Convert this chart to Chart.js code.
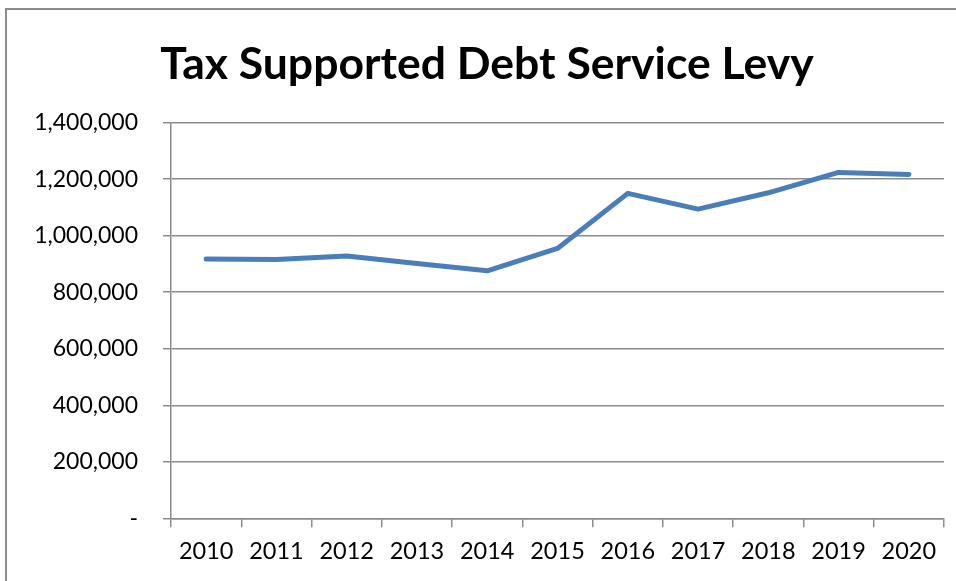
<!DOCTYPE html>
<html>
<head>
<meta charset="utf-8">
<script src="https://cdn.jsdelivr.net/npm/chart.js@4/dist/chart.umd.min.js"></script>
<style>
  html, body { margin: 0; padding: 0; background: #fff; overflow: hidden; }
  #wrap { position: relative; width: 956px; height: 581px; }
  #frame { position: absolute; left: 5px; top: 8px; width: 1000px; height: 1000px;
           border: 2px solid #8c8c8c; pointer-events: none; }
  canvas { position: absolute; left: 0; top: 0; }
</style>
</head>
<body>
<div id="wrap">
  <canvas id="levyChart" width="956" height="581"></canvas>
  <div id="frame"></div>
</div>
<script>
const anos = ['2010', '2011', '2012', '2013', '2014', '2015', '2016', '2017', '2018', '2019', '2020'];
const levy = [918000, 916000, 928000, 902000, 876000, 955000, 1150000, 1094000, 1152000, 1224000, 1217000];
const yMax = 1400000;
const yPasso = 200000;

const corGrade = '#8c8c8c';
const fonte = 'Lato';

const grafico = document.getElementById('levyChart');
new Chart(grafico, {
    type: 'line',
    data: {
        labels: anos,
        datasets: [{
            label: 'Tax Supported Debt Service Levy',
            data: levy,
            borderColor: '#4a7ebb',
            borderWidth: 5,
            borderCapStyle: 'round',
            borderJoinStyle: 'round',
            pointRadius: 0,
            tension: 0,
            fill: false
        }]
    },
    options: {
        responsive: false,
        animation: false,
        layout: {
            padding: { left: 30, right: 12, top: 0, bottom: 0 }
        },
        plugins: {
            legend: { display: false },
            tooltip: { enabled: false },
            title: {
                display: true,
                text: 'Tax Supported Debt Service Levy',
                color: '#000',
                font: { family: fonte, size: 44.5, weight: 'bold' },
                padding: { top: 38, bottom: 31.3 }
            }
        },
        scales: {
            x: {
                offset: true,
                grid: {
                    offset: true,
                    drawOnChartArea: false,
                    drawTicks: true,
                    tickLength: 9,
                    color: corGrade,
                    lineWidth: 1.5
                },
                border: { color: corGrade, width: 1.5 },
                ticks: {
                    color: '#000',
                    font: { family: fonte, size: 23.5 },
                    padding: 10,
                    maxRotation: 0
                },
                afterFit(scale) { scale.height = 62.7; }
            },
            y: {
                min: 0,
                max: yMax,
                grid: {
                    color: corGrade,
                    lineWidth: 1.5,
                    tickLength: 8
                },
                border: { color: corGrade, width: 1.5 },
                ticks: {
                    stepSize: yPasso,
                    color: '#000',
                    font: { family: fonte, size: 23 },
                    padding: 25,
                    callback: (v) => v === 0 ? '-' : v.toLocaleString('en-US')
                },
                afterFit(scale) { scale.width = 141; }
            }
        }
    }
});
</script>
</body>
</html>
